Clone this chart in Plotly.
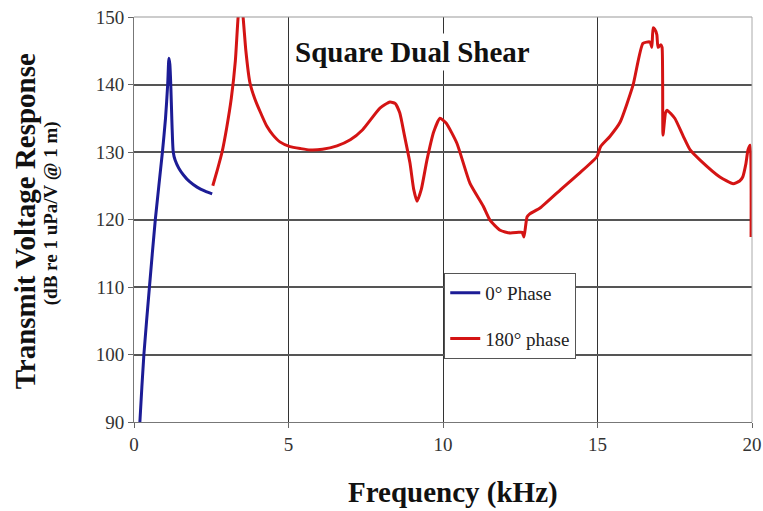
import plotly.graph_objects as go

# Transmit voltage response, 0 degree phase drive
freq_0 = [0.17, 0.19, 0.32, 0.50, 0.69, 0.92, 1.02, 1.09, 1.13,
          1.16, 1.19, 1.23, 1.27, 1.33, 1.45, 1.60, 1.80, 2.04, 2.30, 2.53]
tvr_0 = [88.0, 90.0, 100.0, 110.0, 120.0, 130.0, 135.0, 140.0, 143.9,
         143.0, 140.0, 134.0, 130.0, 128.8, 127.6, 126.6, 125.6, 124.8, 124.2, 123.8]

# Transmit voltage response, 180 degree phase drive
freq_180 = [2.55, 2.70, 2.85, 3.00, 3.15, 3.28, 3.37, 3.45, 3.53, 3.62, 3.75, 3.90,
            4.08, 4.30, 4.50, 4.72, 5.05, 5.40, 5.70, 6.10, 6.57, 7.00, 7.40, 7.96,
            8.28, 8.45, 8.60, 8.75, 8.93, 9.05, 9.16, 9.30, 9.48, 9.70, 9.90, 10.10,
            10.45, 10.87, 11.30, 11.52, 11.85, 12.17, 12.45, 12.56, 12.62, 12.72, 12.80,
            13.14, 13.80, 14.40, 14.98, 15.10, 15.40, 15.73, 16.15, 16.47, 16.70, 16.76,
            16.80, 16.85, 16.92, 16.96, 17.05, 17.09, 17.12, 17.20, 17.25, 17.50, 17.77,
            18.00, 18.32, 18.96, 19.39, 19.60, 19.70, 19.80, 19.87, 19.94, 19.97]
tvr_180 = [125.0, 127.4, 130.0, 133.6, 138.0, 143.5, 150.0, 153.0, 150.0, 145.0, 140.3, 138.0,
           136.0, 133.8, 132.5, 131.5, 130.8, 130.5, 130.3, 130.4, 130.9, 131.8, 133.3, 136.5,
           137.4, 137.2, 135.8, 132.5, 128.4, 124.5, 122.7, 124.5, 128.8, 133.0, 135.0, 134.3,
           131.3, 125.4, 122.0, 119.9, 118.4, 118.0, 118.1, 118.1, 117.4, 120.4, 120.8,
           121.7, 124.4, 126.8, 129.3, 130.8, 132.3, 134.4, 139.9, 146.1, 146.3, 145.5,
           148.4, 148.2, 147.4, 145.5, 145.9, 145.5, 132.5, 135.8, 136.2, 135.0, 132.4,
           130.3, 128.8, 126.3, 125.3, 125.7, 126.3, 128.2, 130.3, 131.0, 117.4]

x_ticks = [0, 5, 10, 15, 20]
y_ticks = [90, 100, 110, 120, 130, 140, 150]

SERIF = "Liberation Serif"

fig = go.Figure()
fig.add_trace(go.Scatter(x=freq_0, y=tvr_0, mode="lines", name="0° Phase",
                         legendgroup="a",
                         line=dict(color="#1c1c96", width=3, shape="spline",
                                   smoothing=0.6)))
fig.add_trace(go.Scatter(x=freq_180, y=tvr_180, mode="lines", name="180° phase",
                         legendgroup="b",
                         line=dict(color="#d41414", width=3, shape="spline",
                                   smoothing=0.5)))

axis_common = dict(
    showgrid=True,
    ticks="outside",
    ticklen=5,
    tickwidth=1,
    tickcolor="#666",
    tickfont=dict(family=SERIF, size=19, color="#333"),
    showline=True,
    linecolor="#777",
    linewidth=1,
    mirror=False,
    zeroline=False,
    automargin=False,
)

fig.update_xaxes(range=[0, 20], tickvals=x_ticks, gridcolor="#333", gridwidth=1.2,
                 **axis_common)
fig.update_yaxes(range=[90, 150], tickvals=y_ticks, gridcolor="#555", gridwidth=1.5,
                 **axis_common)

# light frame along the top and right edges
fig.add_shape(type="line", xref="paper", yref="paper", x0=0, x1=1, y0=1, y1=1,
              line=dict(color="#999", width=1))
fig.add_shape(type="line", xref="paper", yref="paper", x0=1, x1=1, y0=0, y1=1,
              line=dict(color="#aaa", width=1))

annotations = [
    dict(text="<b>Square Dual Shear</b>", x=0.45, y=0.913, xref="paper", yref="paper",
         xanchor="center", yanchor="middle",
         showarrow=False, font=dict(family=SERIF, size=29, color="#111"),
         bgcolor="white", borderpad=2),
    dict(text="<b>Transmit Voltage Response</b>", x=-0.176, y=0.496, xref="paper",
         yref="paper", xanchor="center", yanchor="middle", showarrow=False,
         textangle=-90, font=dict(family=SERIF, size=29, color="#111")),
    dict(text="<b>(dB re 1 uPa/V @ 1 m)</b>", x=-0.134, y=0.516, xref="paper",
         yref="paper", xanchor="center", yanchor="middle", showarrow=False,
         textangle=-90, font=dict(family=SERIF, size=19, color="#111")),
    dict(text="<b>Frequency (kHz)</b>", x=0.516, y=-0.175, xref="paper", yref="paper",
         xanchor="center", yanchor="middle",
         showarrow=False, font=dict(family=SERIF, size=29, color="#111")),
]

fig.update_layout(
    width=763,
    height=511,
    margin=dict(l=134, r=11, t=17, b=89, autoexpand=False),
    paper_bgcolor="white",
    plot_bgcolor="white",
    annotations=annotations,
    showlegend=True,
    legend=dict(x=0.502, y=0.368, xanchor="left", yanchor="top",
                bgcolor="white", bordercolor="#555", borderwidth=1,
                font=dict(family=SERIF, size=19, color="#222"),
                tracegroupgap=18, entrywidth=110),
)

fig.write_html("out.html")
